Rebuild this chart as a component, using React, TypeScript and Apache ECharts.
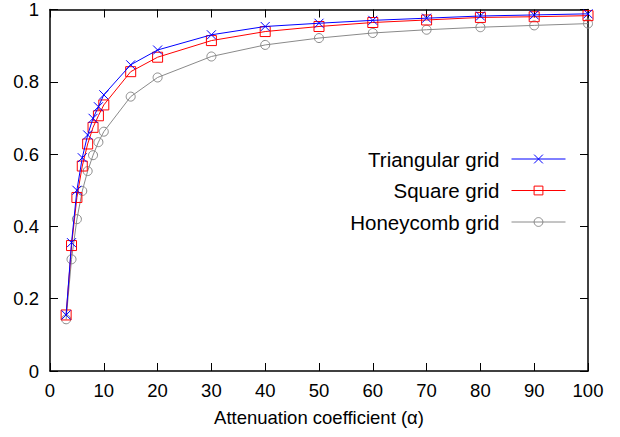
import React, { useEffect, useRef } from "react";
import * as echarts from "echarts";

const alpha = [3, 4, 5, 6, 7, 8, 9, 10, 15, 20, 30, 40, 50, 60, 70, 80, 90, 100];
const triangular = [0.155, 0.355, 0.5, 0.59, 0.653, 0.699, 0.731, 0.764, 0.847, 0.888, 0.93, 0.953, 0.962, 0.97, 0.976, 0.982, 0.985, 0.988];
const square = [0.155, 0.347, 0.48, 0.567, 0.628, 0.674, 0.706, 0.736, 0.828, 0.868, 0.914, 0.939, 0.953, 0.964, 0.971, 0.978, 0.98, 0.983];
const honeycomb = [0.143, 0.309, 0.42, 0.498, 0.553, 0.597, 0.633, 0.662, 0.759, 0.812, 0.87, 0.902, 0.921, 0.935, 0.944, 0.951, 0.956, 0.961];
const seriesNames = ["Triangular grid", "Square grid", "Honeycomb grid"];
const xTitle = "Attenuation coefficient (\u03b1)";

const FONT = "'Liberation Sans', Arial, Helvetica, sans-serif";

export default function App() {
  const ref = useRef<HTMLDivElement>(null);
  useEffect(() => {
    if (!ref.current) return;
    const chart = echarts.init(ref.current, null, { renderer: "svg" });
    const frame = { show: true, onZero: false, lineStyle: { color: "#000", width: 1.5 } };
    const tick = { show: true, inside: true, length: 8, lineStyle: { color: "#000", width: 1 } };
    const pairs = (ys: number[]) => alpha.map((x, i) => [x, ys[i]]);
    const option: any = {
      animation: false,
      backgroundColor: "#fff",
      textStyle: { fontFamily: FONT },
      grid: { left: 50, right: 32, top: 9.5, bottom: 66, outerBoundsMode: "none" },
      legend: {
        orient: "vertical",
        align: "right",
        right: 54,
        top: 148.5,
        padding: 0,
        itemWidth: 54,
        itemHeight: 11,
        itemGap: 10.5,
        lineStyle: { width: 1 },
        itemStyle: { borderWidth: 1 },
        textStyle: { fontSize: 20.5, color: "#000", fontFamily: FONT, padding: [0, 7, 0, 0] },
        data: seriesNames,
      },
      xAxis: [
        {
          type: "value",
          min: 0,
          max: 100,
          interval: 10,
          position: "bottom",
          axisLine: frame,
          axisTick: tick,
          splitLine: { show: false },
          axisLabel: { fontSize: 18.5, color: "#000", margin: 10, fontFamily: FONT },
          name: xTitle,
          nameLocation: "middle",
          nameGap: 37,
          nameTextStyle: { fontSize: 18.5, color: "#000", fontFamily: FONT },
        },
        {
          type: "value",
          min: 0,
          max: 100,
          interval: 10,
          position: "top",
          axisLine: frame,
          axisTick: tick,
          splitLine: { show: false },
          axisLabel: { show: false },
        },
      ],
      yAxis: [
        {
          type: "value",
          min: 0,
          max: 1,
          interval: 0.2,
          position: "left",
          axisLine: frame,
          axisTick: tick,
          splitLine: { show: false },
          axisLabel: { fontSize: 18.5, color: "#000", margin: 11, fontFamily: FONT },
        },
        {
          type: "value",
          min: 0,
          max: 1,
          interval: 0.2,
          position: "right",
          axisLine: frame,
          axisTick: tick,
          splitLine: { show: false },
          axisLabel: { show: false },
        },
      ],
      series: [
        {
          name: seriesNames[2],
          type: "line",
          data: pairs(honeycomb),
          symbol: "circle",
          symbolSize: 9,
          lineStyle: { color: "#8a8a8a", width: 1 },
          itemStyle: { color: "rgba(0,0,0,0)", borderColor: "#8a8a8a", borderWidth: 1 },
          z: 2,
        },
        {
          name: seriesNames[1],
          type: "line",
          data: pairs(square),
          symbol: "rect",
          symbolSize: 10,
          lineStyle: { color: "#ff0000", width: 1 },
          itemStyle: { color: "rgba(0,0,0,0)", borderColor: "#ff0000", borderWidth: 1 },
          z: 3,
        },
        {
          name: seriesNames[0],
          type: "line",
          data: pairs(triangular),
          symbol: "path://M0 0L10 10M10 0L0 10",
          symbolSize: 9,
          lineStyle: { color: "#0000ff", width: 1 },
          itemStyle: { color: "rgba(0,0,0,0)", borderColor: "#0000ff", borderWidth: 1 },
          z: 4,
        },
      ],
    };
    chart.setOption(option);
    return () => chart.dispose();
  }, []);
  return (
    <div
      ref={ref}
      style={{ position: "fixed", left: 0, top: 0, width: 620, height: 437 }}
    />
  );
}
